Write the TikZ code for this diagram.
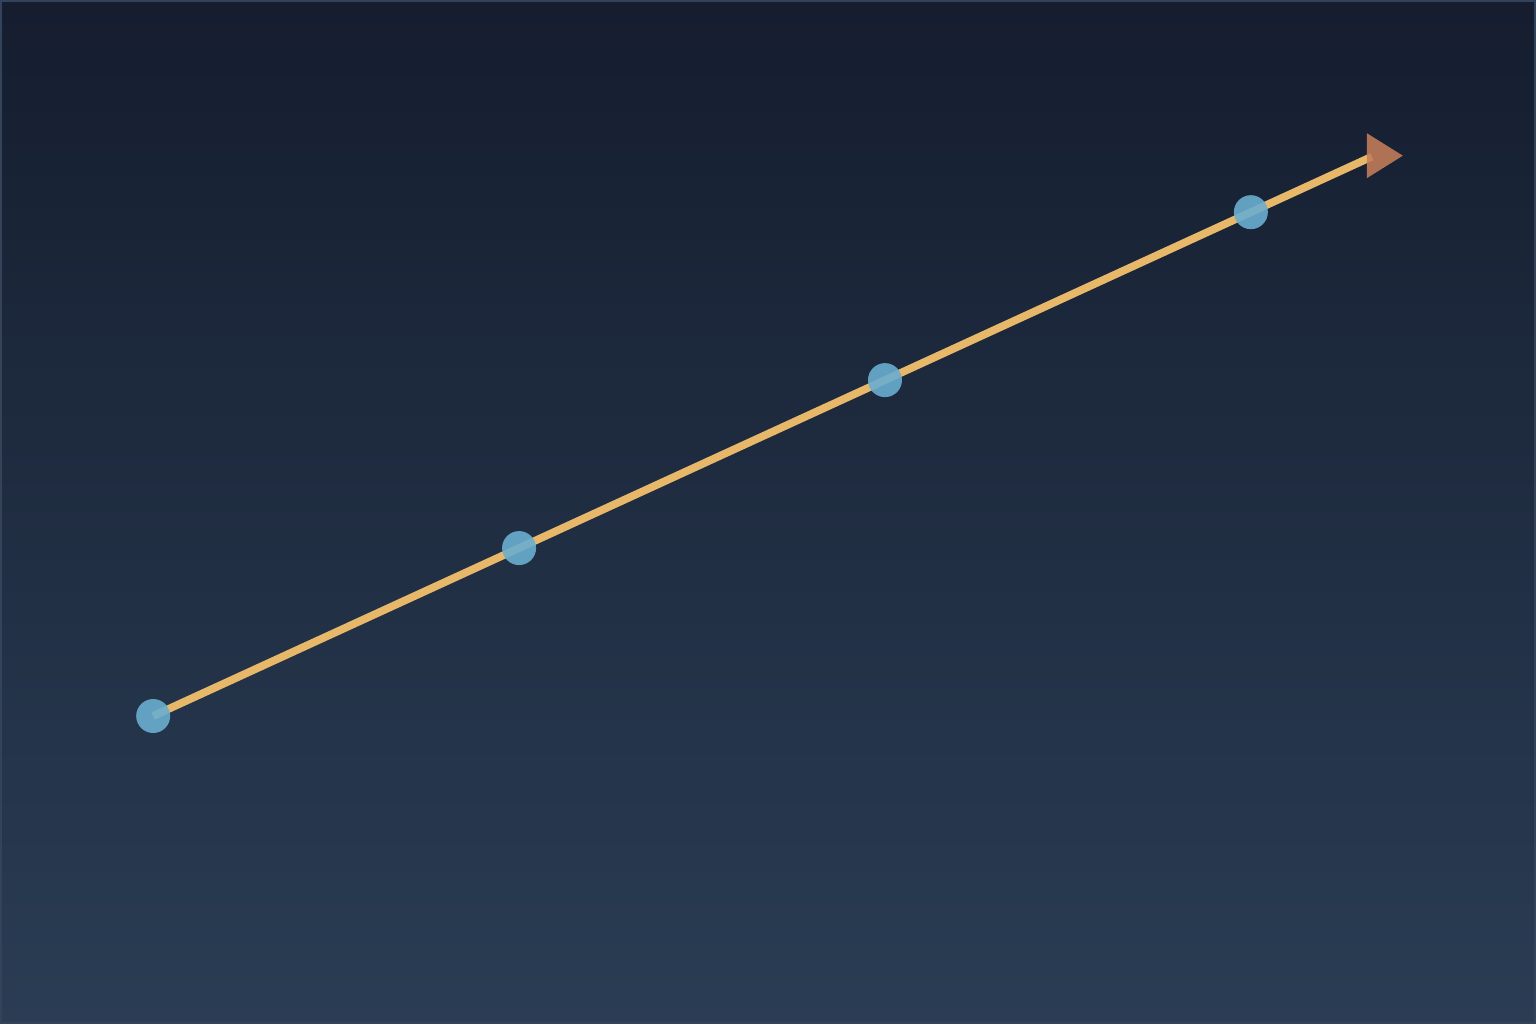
\documentclass[tikz,border=0pt]{standalone}
\definecolor{bgtop}{HTML}{151D2F}
\definecolor{bgbottom}{HTML}{2A3D54}
\definecolor{frame}{HTML}{34435A}
\definecolor{track}{HTML}{E8B86A}
\definecolor{stop}{HTML}{6AAED0}
\definecolor{tip}{HTML}{C47E5A}
\tikzset{
  stopdot/.style = {circle, fill = stop, fill opacity = 0.9, minimum size = 0.34cm, inner sep = 0pt},
  trackline/.style = {line width = 2.2pt, track}
}
\begin{document}
\begin{tikzpicture}
            \shade [top color = bgtop, bottom color = bgbottom] (0, 0) rectangle (15.36, 10.24);
            \draw [frame, line width = 0.7pt] (0.01, 0.01) rectangle (15.35, 10.23);
            \useasboundingbox (0, 0) rectangle (15.36, 10.24);

            \draw [trackline]
            (1.53, 3.08) coordinate (A)
            (13.72, 8.675) coordinate (E)
            (A) -- (E)
            ;
            \fill [tip, fill opacity = 0.88]
            (13.67, 8.91) -- (13.67, 8.46) -- (14.03, 8.685) -- cycle;

            \node [stopdot] (a) at (A) {};
            \node [stopdot] (b) at (5.19, 4.76) {};
            \node [stopdot] (c) at (8.85, 6.44) {};
            \node [stopdot] (d) at (12.51, 8.12) {};
        \end{tikzpicture}
\end{document}
